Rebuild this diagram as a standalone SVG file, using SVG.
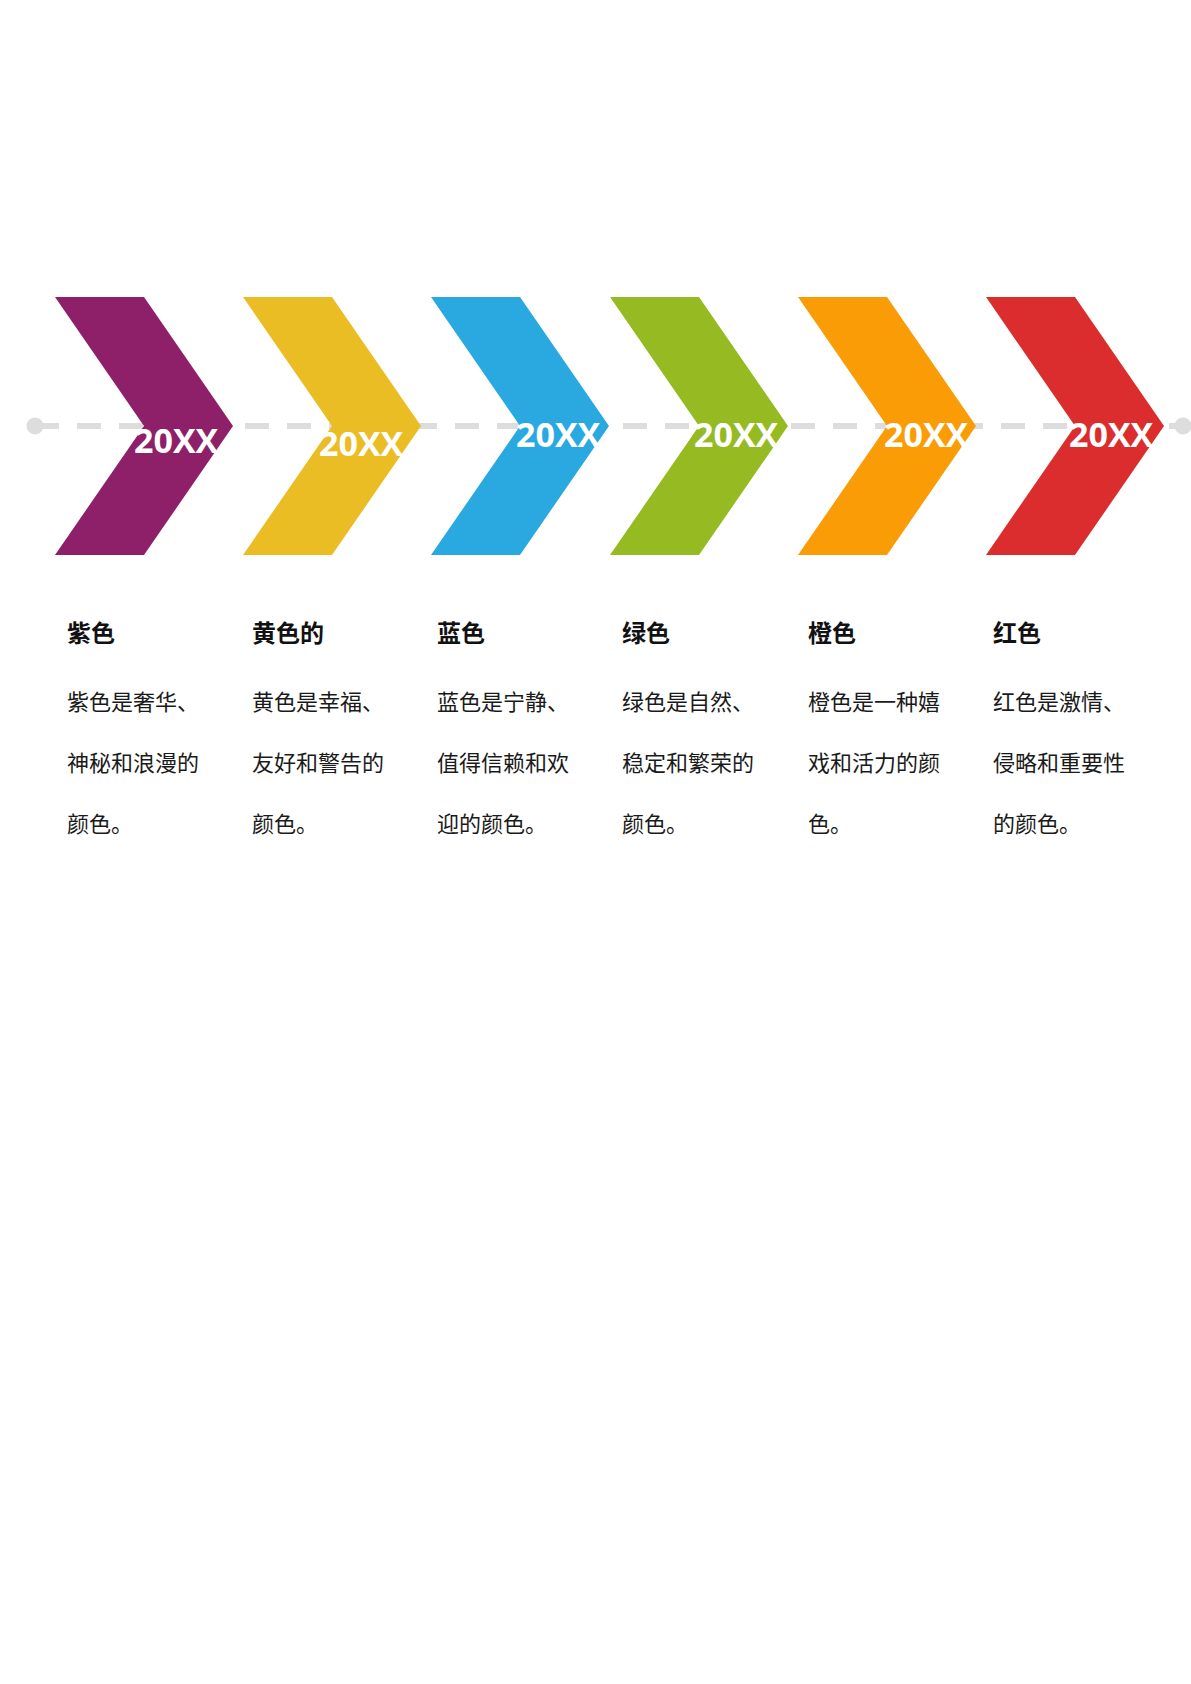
<svg xmlns="http://www.w3.org/2000/svg" width="1191" height="1684" viewBox="0 0 1191 1684">
<style>
.yr{font-family:"Open Sans","Noto Sans",sans-serif;font-weight:700;font-size:34px;fill:#ffffff}
.hd{font-family:"Noto Sans CJK SC",sans-serif;font-weight:700;font-size:24px;fill:#111111}
.bd{font-family:"Noto Sans CJK SC",sans-serif;font-weight:400;font-size:22px;fill:#1a1a1a}
</style>
<defs>
<path id="chev" d="M0,297 L89,297 L178,426 L89,555 L0,555 L89,426 Z"/>
</defs>
<rect width="1191" height="1684" fill="#ffffff"/>
<g id="connectors">
<line x1="35" y1="426" x2="1183" y2="426" stroke="#dddddd" stroke-width="6" stroke-dasharray="24 18"/>
<circle cx="35" cy="426" r="8.5" fill="#dddddd"/>
<circle cx="1183" cy="426" r="8.5" fill="#dddddd"/>
</g>
<g id="node-purple">
<use href="#chev" x="55" fill="#8E1F69"/>
<text class="yr" x="134" y="453">20XX</text>
<text class="hd" x="67" y="642">紫色</text>
<text class="bd" x="67" y="710">紫色是奢华、</text>
<text class="bd" x="67" y="771">神秘和浪漫的</text>
<text class="bd" x="67" y="832">颜色。</text>
</g>
<g id="node-yellow">
<use href="#chev" x="243" fill="#EBBD24"/>
<text class="yr" x="319" y="456">20XX</text>
<text class="hd" x="252" y="642">黄色的</text>
<text class="bd" x="252" y="710">黄色是幸福、</text>
<text class="bd" x="252" y="771">友好和警告的</text>
<text class="bd" x="252" y="832">颜色。</text>
</g>
<g id="node-blue">
<use href="#chev" x="431" fill="#29A9E0"/>
<text class="yr" x="516" y="447">20XX</text>
<text class="hd" x="437" y="642">蓝色</text>
<text class="bd" x="437" y="710">蓝色是宁静、</text>
<text class="bd" x="437" y="771">值得信赖和欢</text>
<text class="bd" x="437" y="832">迎的颜色。</text>
</g>
<g id="node-green">
<use href="#chev" x="610" fill="#95BA22"/>
<text class="yr" x="694" y="447">20XX</text>
<text class="hd" x="622" y="642">绿色</text>
<text class="bd" x="622" y="710">绿色是自然、</text>
<text class="bd" x="622" y="771">稳定和繁荣的</text>
<text class="bd" x="622" y="832">颜色。</text>
</g>
<g id="node-orange">
<use href="#chev" x="798" fill="#FA9C05"/>
<text class="yr" x="884" y="447">20XX</text>
<text class="hd" x="808" y="642">橙色</text>
<text class="bd" x="808" y="710">橙色是一种嬉</text>
<text class="bd" x="808" y="771">戏和活力的颜</text>
<text class="bd" x="808" y="832">色。</text>
</g>
<g id="node-red">
<use href="#chev" x="986" fill="#DB2D2D"/>
<text class="yr" x="1069" y="447">20XX</text>
<text class="hd" x="993" y="642">红色</text>
<text class="bd" x="993" y="710">红色是激情、</text>
<text class="bd" x="993" y="771">侵略和重要性</text>
<text class="bd" x="993" y="832">的颜色。</text>
</g>
</svg>
